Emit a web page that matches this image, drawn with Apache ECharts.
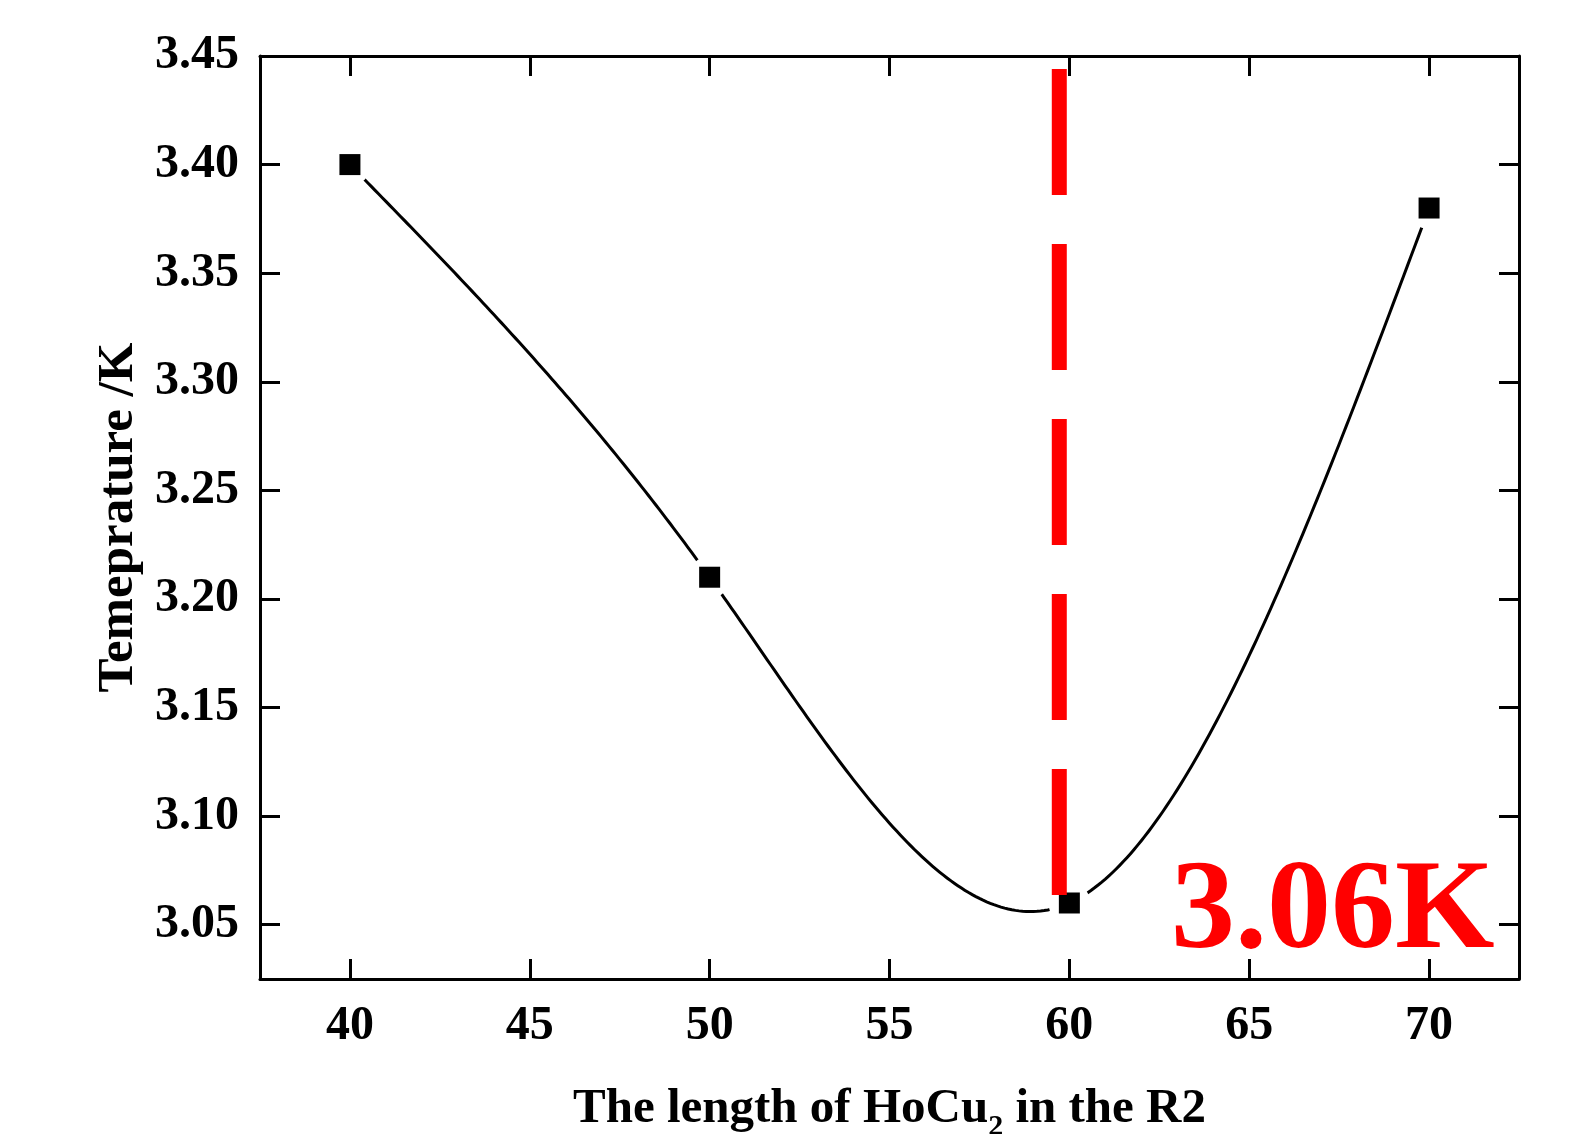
<!DOCTYPE html>
<html>
<head>
<meta charset="utf-8">
<script src="https://cdn.jsdelivr.net/npm/echarts@6/dist/echarts.min.js"></script>
<style>
html,body{margin:0;padding:0;background:#fff;}
#chart{width:1583px;height:1134px;}
</style>
</head>
<body>
<div id="chart"></div>
<script>
// ---- data ----
const lengths = [40, 50, 60, 70];
const temps = [3.40, 3.21, 3.06, 3.38];
const xTicks = [40, 45, 50, 55, 60, 65, 70];
const yTicks = [3.05, 3.10, 3.15, 3.20, 3.25, 3.30, 3.35, 3.40, 3.45];
const guideX = [59.72, 59.72];
const guideY = [3.444, 3.062];
const noteText = '3.06K';
const xTitle = 'The length of HoCu{sub|2} in the R2';
const yTitle = 'Temeprature /K';

const FONT = '"Liberation Serif","Times New Roman",serif';

// natural cubic spline through the data points (rendering of the fitted curve)
function naturalSpline(xs, ys) {
  const n = xs.length;
  const h = [];
  for (let i = 0; i < n - 1; i++) h.push(xs[i + 1] - xs[i]);
  const M = new Array(n).fill(0);
  const m = n - 2;
  if (m > 0) {
    const a = [], b = [], c = [], d = [];
    for (let i = 1; i <= m; i++) {
      a.push(h[i - 1]);
      b.push(2 * (h[i - 1] + h[i]));
      c.push(h[i]);
      d.push(6 * ((ys[i + 1] - ys[i]) / h[i] - (ys[i] - ys[i - 1]) / h[i - 1]));
    }
    for (let i = 1; i < m; i++) {
      const w = a[i] / b[i - 1];
      b[i] -= w * c[i - 1];
      d[i] -= w * d[i - 1];
    }
    const sol = new Array(m);
    sol[m - 1] = d[m - 1] / b[m - 1];
    for (let i = m - 2; i >= 0; i--) sol[i] = (d[i] - c[i] * sol[i + 1]) / b[i];
    for (let i = 0; i < m; i++) M[i + 1] = sol[i];
  }
  return function (x) {
    let i = 0;
    while (i < n - 2 && x > xs[i + 1]) i++;
    const hi = h[i], A = xs[i + 1] - x, B = x - xs[i];
    return M[i] * A * A * A / (6 * hi) + M[i + 1] * B * B * B / (6 * hi) +
      (ys[i] / hi - M[i] * hi / 6) * A + (ys[i + 1] / hi - M[i + 1] * hi / 6) * B;
  };
}
const spline = naturalSpline(lengths, temps);

const chart = echarts.init(document.getElementById('chart'), null, {renderer: 'canvas'});

const axisLineStyle = {show: true, onZero: false, lineStyle: {color: '#000', width: 3}};
const tickStyle = {show: true, inside: true, length: 20, lineStyle: {color: '#000', width: 3}};

const option = {
  backgroundColor: '#ffffff',
  animation: false,
  grid: {left: 260, top: 56, right: 64, bottom: 155, containLabel: false, outerBoundsMode: 'none'},
  xAxis: [{
    type: 'value', min: 37.5, max: 72.5, position: 'bottom',
    axisLine: axisLineStyle,
    axisTick: Object.assign({customValues: xTicks}, tickStyle),
    axisLabel: {customValues: xTicks, fontSize: 48, fontWeight: 'bold', fontFamily: FONT, color: '#000', margin: 24},
    splitLine: {show: false},
    name: xTitle, nameLocation: 'middle', nameGap: 97,
    nameTextStyle: {
      fontSize: 49, fontWeight: 'bold', fontFamily: FONT, color: '#000',
      rich: {sub: {fontSize: 30, fontWeight: 'bold', fontFamily: FONT, color: '#000', verticalAlign: 'bottom', padding: [36, 0, 0, 0]}}
    }
  }, {
    type: 'value', min: 37.5, max: 72.5, position: 'top',
    axisLine: axisLineStyle,
    axisTick: Object.assign({customValues: xTicks}, tickStyle),
    axisLabel: {show: false},
    splitLine: {show: false}
  }],
  yAxis: [{
    type: 'value', min: 3.025, max: 3.45, position: 'left',
    axisLine: axisLineStyle,
    axisTick: Object.assign({customValues: yTicks}, tickStyle),
    axisLabel: {customValues: yTicks, fontSize: 48, fontWeight: 'bold', fontFamily: FONT, color: '#000', margin: 21,
      formatter: v => Number(v).toFixed(2)},
    splitLine: {show: false},
    name: yTitle, nameLocation: 'middle', nameGap: 116, nameRotate: 90,
    nameTextStyle: {fontSize: 51, fontWeight: 'bold', fontFamily: FONT, color: '#000'}
  }, {
    type: 'value', min: 3.025, max: 3.45, position: 'right',
    axisLine: axisLineStyle,
    axisTick: Object.assign({customValues: yTicks}, tickStyle),
    axisLabel: {show: false},
    splitLine: {show: false}
  }],
  series: [
    {
      type: 'custom',
      name: 'curve',
      z: 2,
      silent: true,
      data: lengths.map((x, i) => [x, temps[i]]),
      renderItem: function (params, api) {
        if (params.dataIndex !== 0) return null;
        const pts = [];
        const x0 = lengths[0], x1 = lengths[lengths.length - 1];
        const steps = 300;
        for (let k = 0; k <= steps; k++) {
          const x = x0 + (x1 - x0) * k / steps;
          pts.push(api.coord([x, spline(x)]));
        }
        return {type: 'polyline', shape: {points: pts}, style: {stroke: '#000', lineWidth: 3, fill: null}};
      }
    },
    {
      type: 'scatter', name: 'halo', z: 3, silent: true,
      symbol: 'circle', symbolSize: 42,
      itemStyle: {color: '#ffffff', opacity: 1},
      data: lengths.map((x, i) => [x, temps[i]])
    },
    {
      type: 'scatter', name: 'points', z: 4, silent: true,
      symbol: 'rect', symbolSize: 21,
      itemStyle: {color: '#000000', opacity: 1},
      data: lengths.map((x, i) => [x, temps[i]])
    },
    {
      type: 'line', name: 'guide', z: 5, silent: true,
      showSymbol: false, symbol: 'none',
      lineStyle: {color: '#ff0000', width: 15, type: [126, 49], cap: 'butt'},
      data: guideX.map((x, i) => [x, guideY[i]])
    }
  ],
  graphic: [{
    type: 'text', left: 1171, top: 850, z: 10,
    style: {text: noteText, fontSize: 128, fontWeight: 'bold', fontFamily: FONT, fill: '#ff0000'}
  }]
};
chart.setOption(option);
</script>
</body>
</html>
